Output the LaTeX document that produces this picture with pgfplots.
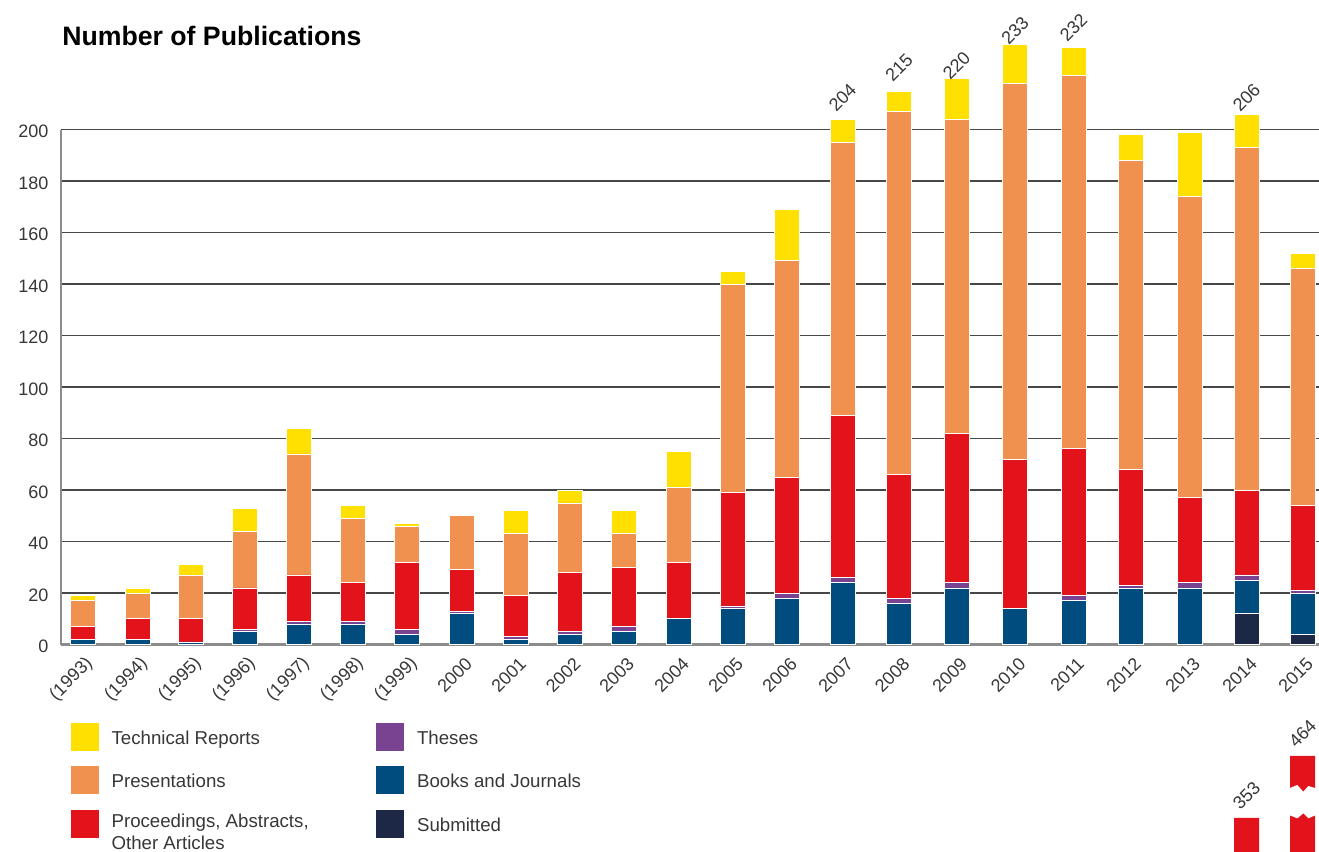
\documentclass[border=0pt]{standalone}
\usepackage{pgfplots}
\pgfplotsset{compat=1.18}
\usepackage{pgfplotstable}
\usepackage{fontspec}
\setmainfont{Liberation Sans}
\definecolor{cTech}{RGB}{255,224,0}
\definecolor{cPres}{RGB}{240,145,80}
\definecolor{cProc}{RGB}{227,19,27}
\definecolor{cThes}{RGB}{122,67,145}
\definecolor{cBook}{RGB}{0,76,126}
\definecolor{cSub}{RGB}{28,40,69}
\definecolor{txt}{RGB}{55,55,55}

% x = horizontal position of each year's bar (pixels of the reference)
\pgfplotstableread{
x sub books thes proc pres tech lab
82.5 0 2 0 5 10 2 {}
137.5 0 2 0 8 10 2 {}
191.3 0 1 0 9 17 4 {}
245.2 0 5 1 16 22 9 {}
299.3 0 8 1 18 47 10 {}
353.3 0 8 1 15 25 5 {}
407.3 0 4 2 26 14 1 {}
461.5 0 12 1 16 21 0 {}
515.5 0 2 1 16 24 9 {}
570.0 0 4 1 23 27 5 {}
623.5 0 5 2 23 13 9 {}
678.5 0 10 0 22 29 14 {}
732.5 0 14 1 44 81 5 {}
786.5 0 18 2 45 84 20 {}
842.5 0 24 2 63 106 9 204
899.0 0 16 2 48 141 8 215
956.5 0 22 2 58 122 16 220
1015.0 0 14 0 58 146 15 233
1073.5 0 17 2 57 145 11 232
1130.5 0 22 1 45 120 10 {}
1189.5 0 22 2 33 117 25 {}
1246.5 12 13 2 33 133 13 206
1302.5 4 16 1 33 92 6 {}
}\datatable

\newcommand{\lblfont}{\fontsize{13.5}{16.2}\selectfont}
\newcommand{\legfont}{\fontsize{14}{16.5}\selectfont}

\begin{document}
\begin{tikzpicture}
\useasboundingbox (-45.75pt,-155.625pt) rectangle (943.5pt,483.375pt);
\begin{axis}[
  at={(0,0)}, anchor=south west,
  scale only axis, width=943.5pt, height=483.375pt,
  xmin=61, xmax=1319, ymin=0, ymax=250.3,
  ybar stacked, bar width=18.75pt,
  clip=false,
  axis line style={draw=none},
  ytick={20,40,...,200},
  extra y ticks={0},
  extra y tick style={grid style={black!45, line width=1.6pt}},
  ymajorgrids, grid style={black!72, line width=0.9pt},
  major tick length=0pt,
  xtick={82.5,137.5,191.3,245.2,299.3,353.3,407.3,461.5,515.5,570,623.5,678.5,732.5,786.5,842.5,899,956.5,1015,1073.5,1130.5,1189.5,1246.5,1302.5},
  xticklabels={(1993),(1994),(1995),(1996),(1997),(1998),(1999),2000,2001,2002,2003,2004,2005,2006,2007,2008,2009,2010,2011,2012,2013,2014,2015},
  /pgf/number format/assume math mode=true,
  ticklabel style={font=\lblfont, text=txt},
  xticklabel style={xshift=8pt, yshift=-10pt, rotate=45, anchor=east},
  yticklabel style={xshift=-6pt, yshift=-1.5pt},
  legend columns=3, transpose legend, reverse legend,
  legend image code/.code={\fill[#1, draw=none] (0pt,-9.25pt) rectangle (21pt,11.75pt);},
  legend style={draw=none, fill=none, at={(0,0)}, anchor=north west,
    xshift=7pt, yshift=-58.75pt, inner sep=0pt,
    font=\legfont, text=txt, row sep=11.25pt,
    nodes={inner sep=2pt},
    /tikz/every odd column/.append style={column sep=7.75pt},
    /tikz/every even column/.append style={column sep=48.5pt}},
  legend cell align=left,
]
\addplot[fill=cSub, draw=white, line width=0.5pt] table[x=x, y=sub] {\datatable};
\addlegendentry{Submitted}
\addplot[fill=cBook, draw=white, line width=0.5pt] table[x=x, y=books] {\datatable};
\addlegendentry{Books and Journals}
\addplot[fill=cThes, draw=white, line width=0.5pt] table[x=x, y=thes] {\datatable};
\addlegendentry{Theses}
\addplot[fill=cProc, draw=white, line width=0.5pt] table[x=x, y=proc] {\datatable};
\addlegendentry{\raisebox{8.5pt}{\begin{tabular}[t]{@{}l@{}}Proceedings, Abstracts,\\Other Articles\end{tabular}}}
\addplot[fill=cPres, draw=white, line width=0.5pt] table[x=x, y=pres] {\datatable};
\addlegendentry{Presentations}
\addplot[fill=cTech, draw=white, line width=0.5pt,
  nodes near coords, point meta=explicit symbolic,
  every node near coord/.append style={yshift=25pt, rotate=45, anchor=center, font=\lblfont, text=txt}]
  table[x=x, y=tech, meta=lab] {\datatable};
\addlegendentry{Technical Reports}
\draw[black!45, line width=1.2pt] (axis cs:61,0) -- (axis cs:61,200);
\end{axis}

\begin{axis}[
  at={(0,-155.625pt)}, anchor=south west,
  scale only axis, width=943.5pt, height=90pt,
  xmin=61, xmax=1319, ymin=292.1, ymax=506.9,
  hide axis, ybar, bar width=18.75pt,
  nodes near coords, point meta=explicit symbolic,
  every node near coord/.append style={yshift=17pt, rotate=45, anchor=center, font=\lblfont, text=txt},
]
\addplot[fill=cProc, draw=none] coordinates {(1246.5,353) [353] (1302.5,464) [464]};
\fill[white] (axis cs:1289,406.1) -- (axis cs:1297.3,412.0) -- (axis cs:1303.3,400.0) -- (axis cs:1308.3,410.3) -- (axis cs:1316,406.1) -- (axis cs:1316,358.3) -- (axis cs:1308.3,352.4) -- (axis cs:1303.3,361.4) -- (axis cs:1297.3,352.4) -- (axis cs:1289,358.3) -- cycle;
\end{axis}

\node[anchor=base west, inner sep=0pt, font=\fontsize{20}{24}\selectfont\bfseries] at (0.75pt,449.6pt) {Number of Publications};
\end{tikzpicture}
\end{document}
